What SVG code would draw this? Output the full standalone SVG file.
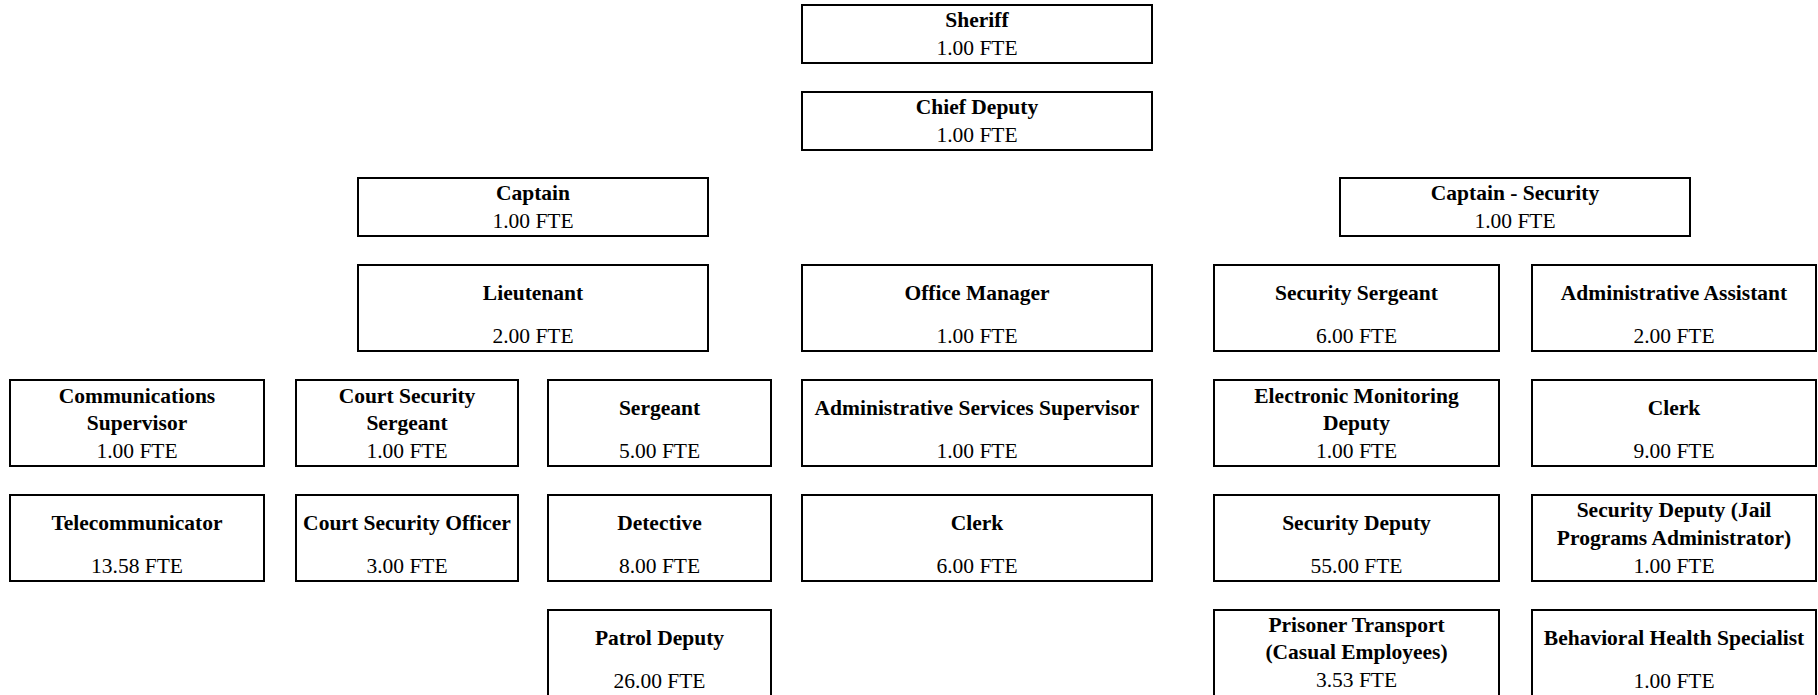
<svg xmlns="http://www.w3.org/2000/svg" width="1818" height="695" viewBox="0 0 1818 695">
  <style>
    .box { fill: #ffffff; stroke: #000000; stroke-width: 2; }
    .t { font-family: "Liberation Serif", "Times New Roman", serif; font-size: 21.5px; fill: #000000; text-anchor: middle; }
    .b { font-weight: bold; }
  </style>
  <rect width="1818" height="695" fill="#ffffff"/>

  <!-- reporting lines are implied by layout; no drawn connectors -->
  <g id="connectors"></g>

  <!-- top command -->
  <g id="sheriff">
    <rect class="box" x="802" y="5" width="350" height="58"/>
    <text class="t b" x="977" y="26.5">Sheriff</text>
    <text class="t" x="977" y="55">1.00 FTE</text>
  </g>
  <g id="chief-deputy">
    <rect class="box" x="802" y="92" width="350" height="58"/>
    <text class="t b" x="977" y="113.5">Chief Deputy</text>
    <text class="t" x="977" y="142">1.00 FTE</text>
  </g>
  <g id="captain">
    <rect class="box" x="358" y="178" width="350" height="58"/>
    <text class="t b" x="533" y="199.5">Captain</text>
    <text class="t" x="533" y="228">1.00 FTE</text>
  </g>
  <g id="captain-security">
    <rect class="box" x="1340" y="178" width="350" height="58"/>
    <text class="t b" x="1515" y="199.5">Captain - Security</text>
    <text class="t" x="1515" y="228">1.00 FTE</text>
  </g>

  <!-- second tier -->
  <g id="lieutenant">
    <rect class="box" x="358" y="265" width="350" height="86"/>
    <text class="t b" x="533" y="300">Lieutenant</text>
    <text class="t" x="533" y="343">2.00 FTE</text>
  </g>
  <g id="office-manager">
    <rect class="box" x="802" y="265" width="350" height="86"/>
    <text class="t b" x="977" y="300">Office Manager</text>
    <text class="t" x="977" y="343">1.00 FTE</text>
  </g>
  <g id="security-sergeant">
    <rect class="box" x="1214" y="265" width="285" height="86"/>
    <text class="t b" x="1356.5" y="300">Security Sergeant</text>
    <text class="t" x="1356.5" y="343">6.00 FTE</text>
  </g>
  <g id="administrative-assistant">
    <rect class="box" x="1532" y="265" width="284" height="86"/>
    <text class="t b" x="1674" y="300">Administrative Assistant</text>
    <text class="t" x="1674" y="343">2.00 FTE</text>
  </g>

  <!-- third tier -->
  <g id="communications-supervisor">
    <rect class="box" x="10" y="380" width="254" height="86"/>
    <text class="t b" x="137" y="402.5">Communications</text>
    <text class="t b" x="137" y="430">Supervisor</text>
    <text class="t" x="137" y="458">1.00 FTE</text>
  </g>
  <g id="court-security-sergeant">
    <rect class="box" x="296" y="380" width="222" height="86"/>
    <text class="t b" x="407" y="402.5">Court Security</text>
    <text class="t b" x="407" y="430">Sergeant</text>
    <text class="t" x="407" y="458">1.00 FTE</text>
  </g>
  <g id="sergeant">
    <rect class="box" x="548" y="380" width="223" height="86"/>
    <text class="t b" x="659.5" y="415">Sergeant</text>
    <text class="t" x="659.5" y="458">5.00 FTE</text>
  </g>
  <g id="administrative-services-supervisor">
    <rect class="box" x="802" y="380" width="350" height="86"/>
    <text class="t b" x="977" y="415">Administrative Services Supervisor</text>
    <text class="t" x="977" y="458">1.00 FTE</text>
  </g>
  <g id="electronic-monitoring-deputy">
    <rect class="box" x="1214" y="380" width="285" height="86"/>
    <text class="t b" x="1356.5" y="402.5">Electronic Monitoring</text>
    <text class="t b" x="1356.5" y="430">Deputy</text>
    <text class="t" x="1356.5" y="458">1.00 FTE</text>
  </g>
  <g id="clerk-security">
    <rect class="box" x="1532" y="380" width="284" height="86"/>
    <text class="t b" x="1674" y="415">Clerk</text>
    <text class="t" x="1674" y="458">9.00 FTE</text>
  </g>

  <!-- fourth tier -->
  <g id="telecommunicator">
    <rect class="box" x="10" y="495" width="254" height="86"/>
    <text class="t b" x="137" y="530">Telecommunicator</text>
    <text class="t" x="137" y="573">13.58 FTE</text>
  </g>
  <g id="court-security-officer">
    <rect class="box" x="296" y="495" width="222" height="86"/>
    <text class="t b" x="407" y="530">Court Security Officer</text>
    <text class="t" x="407" y="573">3.00 FTE</text>
  </g>
  <g id="detective">
    <rect class="box" x="548" y="495" width="223" height="86"/>
    <text class="t b" x="659.5" y="530">Detective</text>
    <text class="t" x="659.5" y="573">8.00 FTE</text>
  </g>
  <g id="clerk-admin">
    <rect class="box" x="802" y="495" width="350" height="86"/>
    <text class="t b" x="977" y="530">Clerk</text>
    <text class="t" x="977" y="573">6.00 FTE</text>
  </g>
  <g id="security-deputy">
    <rect class="box" x="1214" y="495" width="285" height="86"/>
    <text class="t b" x="1356.5" y="530">Security Deputy</text>
    <text class="t" x="1356.5" y="573">55.00 FTE</text>
  </g>
  <g id="security-deputy-jail-programs">
    <rect class="box" x="1532" y="495" width="284" height="86"/>
    <text class="t b" x="1674" y="517">Security Deputy (Jail</text>
    <text class="t b" x="1674" y="544.5">Programs Administrator)</text>
    <text class="t" x="1674" y="573">1.00 FTE</text>
  </g>

  <!-- fifth tier (runs past the lower edge) -->
  <g id="patrol-deputy">
    <rect class="box" x="548" y="610" width="223" height="86"/>
    <text class="t b" x="659.5" y="645">Patrol Deputy</text>
    <text class="t" x="659.5" y="688">26.00 FTE</text>
  </g>
  <g id="prisoner-transport">
    <rect class="box" x="1214" y="610" width="285" height="86"/>
    <text class="t b" x="1356.5" y="631.5">Prisoner Transport</text>
    <text class="t b" x="1356.5" y="659">(Casual Employees)</text>
    <text class="t" x="1356.5" y="687">3.53 FTE</text>
  </g>
  <g id="behavioral-health-specialist">
    <rect class="box" x="1532" y="610" width="284" height="86"/>
    <text class="t b" x="1674" y="645">Behavioral Health Specialist</text>
    <text class="t" x="1674" y="688">1.00 FTE</text>
  </g>
</svg>
